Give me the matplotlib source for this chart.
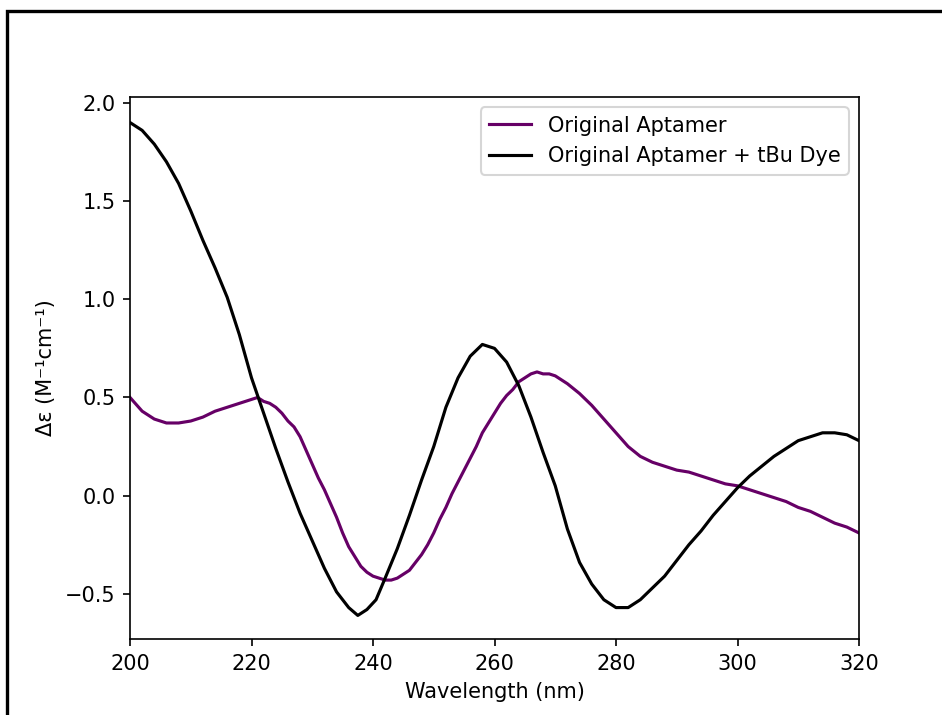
import matplotlib
matplotlib.use("Agg")
import matplotlib.pyplot as plt
from matplotlib.patches import Rectangle

# Original Aptamer
wl_apt = [200, 202, 204, 206, 208, 210, 212, 214, 216, 218, 220, 221, 222, 223, 224,
          225, 226, 227, 228, 229, 230, 231, 232, 233, 234, 235, 236, 237, 238, 239,
          240, 241, 242, 243, 244, 245, 246, 247, 248, 249, 250, 251, 252, 253, 254,
          255, 256, 257, 258, 259, 260, 261, 262, 263, 264, 265, 266, 267, 268, 269,
          270, 271, 272, 274, 276, 278, 280, 282, 284, 286, 288, 290, 292, 294, 296,
          298, 300, 302, 304, 306, 308, 310, 312, 314, 316, 318, 320]
de_apt = [0.50, 0.43, 0.39, 0.37, 0.37, 0.38, 0.40, 0.43, 0.45, 0.47, 0.49, 0.50, 0.48,
          0.47, 0.45, 0.42, 0.38, 0.35, 0.30, 0.23, 0.16, 0.09, 0.03, -0.04, -0.11,
          -0.19, -0.26, -0.31, -0.36, -0.39, -0.41, -0.42, -0.43, -0.43, -0.42, -0.40,
          -0.38, -0.34, -0.30, -0.25, -0.19, -0.12, -0.06, 0.01, 0.07, 0.13, 0.19,
          0.25, 0.32, 0.37, 0.42, 0.47, 0.51, 0.54, 0.58, 0.60, 0.62, 0.63, 0.62, 0.62,
          0.61, 0.59, 0.57, 0.52, 0.46, 0.39, 0.32, 0.25, 0.20, 0.17, 0.15, 0.13, 0.12,
          0.10, 0.08, 0.06, 0.05, 0.03, 0.01, -0.01, -0.03, -0.06, -0.08, -0.11, -0.14,
          -0.16, -0.19]

# Original Aptamer + tBu Dye
wl_dye = [200, 202, 204, 206, 208, 210, 212, 214, 216, 218, 220, 221, 222, 224, 226,
          228, 230, 232, 234, 236, 237.5, 239, 240.5, 242, 244, 246, 248, 250, 252, 254,
          256, 258, 260, 262, 264, 266, 268, 270, 272, 274, 276, 278, 280, 282, 284,
          286, 288, 290, 292, 294, 296, 298, 300, 302, 304, 306, 308, 310, 312, 314,
          316, 318, 320]
de_dye = [1.90, 1.86, 1.79, 1.70, 1.59, 1.45, 1.30, 1.16, 1.01, 0.82, 0.60, 0.51, 0.42,
          0.24, 0.07, -0.09, -0.23, -0.37, -0.49, -0.57, -0.61, -0.58, -0.53, -0.42,
          -0.27, -0.10, 0.08, 0.25, 0.45, 0.60, 0.71, 0.77, 0.75, 0.68, 0.56, 0.40,
          0.22, 0.05, -0.17, -0.34, -0.45, -0.53, -0.57, -0.57, -0.53, -0.47, -0.41,
          -0.33, -0.25, -0.18, -0.10, -0.03, 0.04, 0.10, 0.15, 0.20, 0.24, 0.28, 0.30,
          0.32, 0.32, 0.31, 0.28]

fig = plt.figure(figsize=(942 / 150, 715 / 150), dpi=150)
ax = fig.add_axes([130 / 942, 1 - 639 / 715, 729 / 942, 542 / 715])

ax.plot(wl_apt, de_apt, color='#660066', label='Original Aptamer')
ax.plot(wl_dye, de_dye, color='black', label='Original Aptamer + tBu Dye')

ax.set_xlim(200, 320)
ax.set_ylim(-0.73, 2.03)
ax.set_xlabel('Wavelength (nm)')
ax.set_ylabel('Δε (M⁻¹cm⁻¹)')
ax.legend(loc='upper right')

# border of the cropped figure
fig.patches.append(Rectangle((7 / 942, -0.1), 1.2, 1.1 - 11 / 715,
                             transform=fig.transFigure, fill=False,
                             edgecolor='black', linewidth=1.6, clip_on=False))

fig.savefig('out.png', dpi=150)
